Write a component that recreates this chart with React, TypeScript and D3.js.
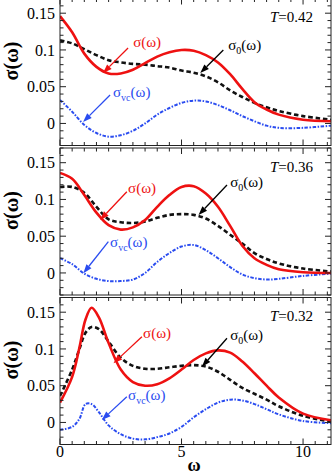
import React from "react";
import * as d3 from "d3";

// omega grids (one per panel)
const omegaA = [0, 0.5, 1, 1.5, 2, 2.5, 3, 3.5, 4, 4.5, 5, 5.5, 6, 6.5, 7, 7.5, 8, 8.5, 9, 10, 11.15];
const omegaC = [0, 0.5, 0.8, 1.05, 1.3, 1.6, 2, 2.5, 3, 3.5, 4, 4.5, 5, 5.5, 6, 6.5, 7, 7.5, 8, 8.5, 9, 10, 11.15];

// T = 0.42
const sigma042 = [0.146, 0.124, 0.095, 0.077, 0.068, 0.068, 0.073, 0.082, 0.091, 0.097, 0.1, 0.099, 0.093, 0.083, 0.067, 0.047, 0.029, 0.019, 0.012, 0.005, 0.003];
const sigma0042 = [0.113, 0.109, 0.101, 0.093, 0.086, 0.083, 0.081, 0.08, 0.078, 0.076, 0.072, 0.069, 0.064, 0.056, 0.045, 0.036, 0.028, 0.022, 0.017, 0.01, 0.005];
const sigmaVc042 = [0.032, 0.016, -0.002, -0.013, -0.018, -0.016, -0.01, 0.0, 0.012, 0.021, 0.028, 0.031, 0.03, 0.025, 0.018, 0.01, 0.003, -0.003, -0.006, -0.006, -0.003];

// T = 0.36
const sigma036 = [0.136, 0.128, 0.106, 0.082, 0.065, 0.059, 0.062, 0.072, 0.09, 0.106, 0.117, 0.118, 0.108, 0.09, 0.064, 0.037, 0.02, 0.011, 0.005, 0.001, 0.0];
const sigma0036 = [0.117, 0.117, 0.109, 0.09, 0.073, 0.069, 0.068, 0.07, 0.075, 0.079, 0.08, 0.079, 0.074, 0.064, 0.052, 0.04, 0.027, 0.019, 0.013, 0.006, 0.002];
const sigmaVc036 = [0.02, 0.012, -0.001, -0.008, -0.011, -0.011, -0.009, 0.0, 0.015, 0.027, 0.036, 0.038, 0.031, 0.02, 0.008, -0.002, -0.007, -0.009, -0.008, -0.004, -0.001];

// T = 0.32
const sigma032 = [0.027, 0.062, 0.102, 0.14, 0.156, 0.143, 0.108, 0.072, 0.055, 0.05, 0.052, 0.06, 0.072, 0.085, 0.094, 0.098, 0.095, 0.083, 0.067, 0.05, 0.034, 0.012, 0.003];
const sigma0032 = [0.036, 0.072, 0.1, 0.122, 0.13, 0.127, 0.11, 0.088, 0.077, 0.073, 0.073, 0.075, 0.077, 0.078, 0.076, 0.069, 0.058, 0.047, 0.039, 0.031, 0.022, 0.009, 0.001];
const sigmaVc032 = [-0.01, -0.006, 0.005, 0.025, 0.025, 0.014, -0.004, -0.016, -0.022, -0.023, -0.02, -0.015, -0.006, 0.007, 0.018, 0.027, 0.031, 0.03, 0.025, 0.018, 0.011, 0.002, -0.001];

const tempLabels = ["0.42", "0.36", "0.32"];
const yTickLabels = ["0", "0.05", "0.1", "0.15"];
const yTickValues = [0, 0.05, 0.1, 0.15];
const xTickValues = [0, 5, 10];

// annotation anchors in data units: [text, arrow start, arrow tip]
const notes042 = {
  red: [[3.01, 0.104], [2.8, 0.1027], [1.77, 0.0686]],
  black: [[6.92, 0.0999], [6.72, 0.0999], [5.77, 0.0686]],
  blue: [[2.18, 0.036], [2.06, 0.0387], [0.95, 0.002]],
};
const notes036 = {
  red: [[2.8, 0.1084], [2.75, 0.1105], [1.65, 0.072]],
  black: [[7.0, 0.1173], [6.87, 0.1197], [5.7, 0.0789]],
  blue: [[2.06, 0.0357], [1.99, 0.0425], [0.96, -0.0005]],
};
const notes032 = {
  red: [[3.42, 0.115], [3.37, 0.1167], [2.2, 0.0805]],
  black: [[7.0, 0.112], [6.87, 0.1145], [5.84, 0.0758]],
  blue: [[2.8, 0.0305], [2.75, 0.035], [1.72, 0.0033]],
};

const panels = [
  { omega: omegaA, s: sigma042, s0: sigma0042, vc: sigmaVc042, notes: notes042 },
  { omega: omegaA, s: sigma036, s0: sigma0036, vc: sigmaVc036, notes: notes036 },
  { omega: omegaC, s: sigma032, s0: sigma0032, vc: sigmaVc032, notes: notes032 },
];

const RED = "#ee1111";
const BLUE = "#2a4cf0";
const serif = "'Times New Roman', 'Liberation Serif', serif";

const left = 60;
const right = 331;
const panelTops = [-1.5, 148, 297.5];
const panelH = 147;

const x = d3.scaleLinear().domain([0, 11.15]).range([left, right]);

function Arrow({ from, to, color }) {
  const [x1, y1] = from;
  const [x2, y2] = to;
  const a = Math.atan2(y2 - y1, x2 - x1);
  const len = 9;
  const w = 3.2;
  const bx = x2 - len * Math.cos(a);
  const by = y2 - len * Math.sin(a);
  const p1 = [bx + w * Math.sin(a), by - w * Math.cos(a)];
  const p2 = [bx - w * Math.sin(a), by + w * Math.cos(a)];
  return (
    <g>
      <line x1={x1} y1={y1} x2={bx} y2={by} stroke={color} strokeWidth={1.3} />
      <path d={`M${x2},${y2}L${p1[0]},${p1[1]}L${p2[0]},${p2[1]}Z`} fill={color} />
    </g>
  );
}

function Panel({ data, top, index, isLast }) {
  const y = d3.scaleLinear().domain([-0.03, 0.17]).range([top + panelH, top]);
  const line = d3
    .line()
    .x((d) => x(d[0]))
    .y((d) => y(d[1]))
    .curve(d3.curveCatmullRom.alpha(0.5));
  const pts = (vals) => data.omega.map((w, i) => [w, vals[i]]);
  const clipId = `clip${index}`;
  const xMinor = d3.range(0, 11.01, 0.5);
  const yMinor = d3.range(-0.03, 0.1701, 0.01).map((v) => Math.round(v * 100) / 100);
  const bottom = top + panelH;
  const n = data.notes;
  const P = (p) => [x(p[0]), y(p[1])];

  return (
    <g>
      <clipPath id={clipId}>
        <rect x={left} y={top} width={right - left} height={panelH} />
      </clipPath>
      <g clipPath={`url(#${clipId})`}>
        <path d={line(pts(data.vc))} fill="none" stroke={BLUE} strokeWidth={2} strokeDasharray="3.5,1.5,1.5,1.5" />
        <path d={line(pts(data.s0))} fill="none" stroke="#111" strokeWidth={2.6} strokeDasharray="4.5,2.8" />
        <path d={line(pts(data.s))} fill="none" stroke={RED} strokeWidth={2.6} />
      </g>
      {/* frame */}
      <rect x={left} y={top} width={right - left} height={panelH} fill="none" stroke="#222" strokeWidth={1} />
      {/* x ticks, top and bottom, inward */}
      {xMinor.map((v) => {
        const major = Math.abs(v % 5) < 1e-6;
        const l = major ? 6 : 3.5;
        return (
          <g key={"xt" + v} stroke="#222" strokeWidth={1}>
            <line x1={x(v)} x2={x(v)} y1={bottom} y2={bottom - l} />
            <line x1={x(v)} x2={x(v)} y1={top} y2={top + l} />
          </g>
        );
      })}
      {/* y ticks, left and right, inward */}
      {yMinor.map((v) => {
        const major = yTickValues.includes(v);
        const l = major ? 6 : 3.5;
        return (
          <g key={"yt" + v} stroke="#222" strokeWidth={1}>
            <line x1={left} x2={left + l} y1={y(v)} y2={y(v)} />
            <line x1={right} x2={right - l} y1={y(v)} y2={y(v)} />
          </g>
        );
      })}
      {yTickValues.map((v, i) => (
        <text key={"yl" + v} x={55} y={y(v)} dy="0.35em" textAnchor="end" fontFamily={serif} fontSize={16}>
          {yTickLabels[i]}
        </text>
      ))}
      {isLast &&
        xTickValues.map((v) => (
          <text key={"xl" + v} x={x(v)} y={457} textAnchor="middle" fontFamily={serif} fontSize={16}>
            {v}
          </text>
        ))}
      {/* y axis title */}
      <text
        transform={`translate(18, ${top + panelH / 2 - 11}) rotate(-90)`}
        textAnchor="middle"
        fontFamily={serif}
        fontWeight="bold"
        fontSize={20}
      >
        σ(ω)
      </text>
      {/* temperature */}
      <text x={313} y={top + 23.5} textAnchor="end" fontFamily={serif} fontSize={15}>
        <tspan fontStyle="italic">T</tspan>=0.{tempLabels[index].slice(2)}
      </text>
      {/* annotations */}
      <text x={P(n.red[0])[0]} y={P(n.red[0])[1]} fill={RED} fontFamily={serif} fontSize={15}>
        σ(ω)
      </text>
      <Arrow from={P(n.red[1])} to={P(n.red[2])} color={RED} />
      <text x={P(n.black[0])[0]} y={P(n.black[0])[1]} fill="#000" fontFamily={serif} fontSize={15}>
        σ<tspan fontSize={10} dy={4}>0</tspan>
        <tspan dy={-4}>(ω)</tspan>
      </text>
      <Arrow from={P(n.black[1])} to={P(n.black[2])} color="#000" />
      <text x={P(n.blue[0])[0]} y={P(n.blue[0])[1]} fill={BLUE} fontFamily={serif} fontSize={15}>
        σ<tspan fontSize={10} dy={4}>vc</tspan>
        <tspan dy={-4}>(ω)</tspan>
      </text>
      <Arrow from={P(n.blue[1])} to={P(n.blue[2])} color={BLUE} />
    </g>
  );
}

export default function App() {
  return (
    <svg
      width={332}
      height={474}
      style={{ position: "absolute", left: 0, top: 0, background: "#fff" }}
    >
      {panels.map((p, i) => (
        <Panel key={i} data={p} top={panelTops[i]} index={i} isLast={i === panels.length - 1} />
      ))}
      <text x={194} y={471} textAnchor="middle" fontFamily={serif} fontWeight="bold" fontSize={18}>
        ω
      </text>
    </svg>
  );
}
